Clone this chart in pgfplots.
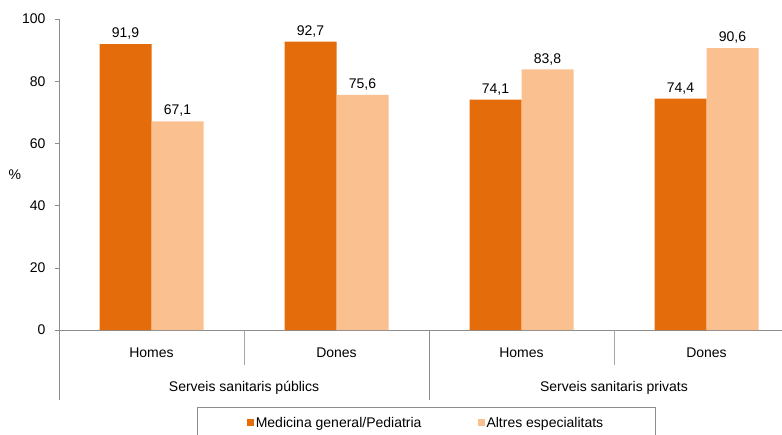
\documentclass[border=0pt]{standalone}
\usepackage{fontspec}
\setmainfont{Liberation Sans}
\usepackage{pgfplots}
\pgfplotsset{compat=1.18}
\definecolor{darkor}{HTML}{E46C0A}
\definecolor{lightor}{HTML}{FAC090}
\definecolor{axgray}{HTML}{8C8C8C}
\definecolor{sepgray}{HTML}{A6A6A6}

\begin{document}
\begin{tikzpicture}[font=\fontsize{14}{16}\selectfont]
  \begin{axis}[
    x=185pt, y=3.11pt,
    xmin=-0.5, xmax=3.41,
    ymin=0, ymax=100,
    axis x line=bottom,
    axis y line=left,
    axis line style={axgray, -},
    xtick=\empty,
    ytick={0,20,...,100},
    tick align=outside,
    major tick length=4pt,
    tick style={axgray},
    /pgf/number format/assume math mode=true,
    yticklabel style={xshift=-6pt},
    ylabel={\%},
    ylabel style={at={(axis description cs:-0.061,0.5)}, rotate=-90, anchor=center},
    ybar=0pt,
    bar width=52pt,
    nodes near coords,
    every node near coord/.append style={
      /pgf/number format/use comma,
      /pgf/number format/fixed,
      /pgf/number format/precision=1,
      /pgf/number format/fixed zerofill,
      black, yshift=1pt
    },
    clip=false,
    legend columns=2,
    legend style={
      draw=axgray,
      at={(axis description cs:0.5074,-0.2476)},
      anchor=north,
      inner xsep=50pt, inner ysep=8pt,
      /tikz/every even column/.append style={column sep=54pt},
      font=\fontsize{14}{16}\selectfont,
    },
    legend cell align=left,
  ]
    \addplot[fill=darkor, draw=none,
      legend image code/.code={\fill[darkor] (0pt,-3pt) rectangle (7pt,4pt);}]
      coordinates {(0,91.9) (1,92.7) (2,74.1) (3,74.4)};
    \addplot[fill=lightor, draw=none,
      legend image code/.code={\fill[lightor] (0pt,-3pt) rectangle (7pt,4pt);}]
      coordinates {(0,67.1) (1,75.6) (2,83.8) (3,90.6)};
    \legend{Medicina general/Pediatria, Altres especialitats}

    % separators below the category axis
    \draw[axgray] (axis cs:-0.5,0) -- ([yshift=-70pt]axis cs:-0.5,0);
    \draw[sepgray] (axis cs:0.5,0) -- ([yshift=-35pt]axis cs:0.5,0);
    \draw[axgray] (axis cs:1.5,0) -- ([yshift=-70pt]axis cs:1.5,0);
    \draw[sepgray] (axis cs:2.5,0) -- ([yshift=-35pt]axis cs:2.5,0);
    \draw[axgray] (axis cs:3.5,0) -- ([yshift=-70pt]axis cs:3.5,0);

    \node at (axis cs:0,0) [yshift=-23pt] {Homes};
    \node at (axis cs:1,0) [yshift=-23pt] {Dones};
    \node at (axis cs:2,0) [yshift=-23pt] {Homes};
    \node at (axis cs:3,0) [yshift=-23pt] {Dones};
    \node at (axis cs:0.5,0) [yshift=-58pt] {Serveis sanitaris públics};
    \node at (axis cs:2.5,0) [yshift=-58pt] {Serveis sanitaris privats};
  \end{axis}
  \pgfresetboundingbox
  \useasboundingbox (-59pt,-104pt) rectangle (723pt,330pt);
\end{tikzpicture}
\end{document}
